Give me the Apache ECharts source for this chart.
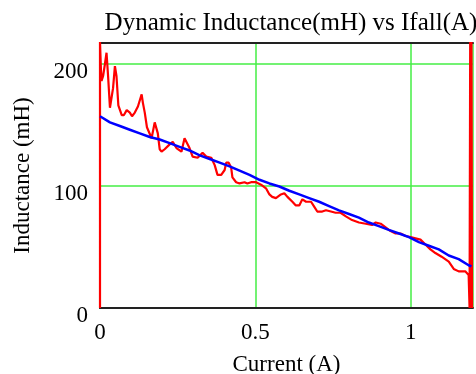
<!DOCTYPE html>
<html>
<head>
<meta charset="utf-8">
<script src="https://cdn.jsdelivr.net/npm/echarts@6/dist/echarts.min.js"></script>
<style>
  html, body { margin: 0; padding: 0; background: #fff; }
  #chart { width: 476px; height: 374px; }
</style>
</head>
<body>
<div id="chart"></div>
<script>
// Measured dynamic inductance during current fall (red) and its fitted trend (blue)
const measuredCurrent = [
  0.000, 0.000, 0.003, 0.005, 0.010, 0.016, 0.021, 0.026, 0.032, 0.042,
  0.048, 0.053, 0.059, 0.070, 0.077, 0.086, 0.096, 0.103, 0.112, 0.122,
  0.134, 0.138, 0.144, 0.151, 0.166, 0.176, 0.182, 0.186, 0.192, 0.198,
  0.208, 0.224, 0.234, 0.246, 0.262, 0.272, 0.278, 0.288, 0.298, 0.314,
  0.330, 0.342, 0.346, 0.358, 0.369, 0.378, 0.390, 0.401, 0.406, 0.414,
  0.422, 0.426, 0.438, 0.449, 0.465, 0.474, 0.486, 0.502, 0.518, 0.534,
  0.545, 0.554, 0.566, 0.582, 0.593, 0.603, 0.619, 0.630, 0.641, 0.651,
  0.663, 0.679, 0.689, 0.699, 0.715, 0.727, 0.743, 0.758, 0.774, 0.791,
  0.811, 0.833, 0.855, 0.875, 0.887, 0.903, 0.919, 0.935, 0.951, 0.967,
  0.983, 0.999, 1.015, 1.031, 1.047, 1.063, 1.079, 1.099, 1.122, 1.138,
  1.154, 1.175, 1.186, 1.188, 1.189, 1.191, 1.193, 1.195, 1.197
];
const measuredInductance = [
  0, 218, 195, 186, 190, 200, 209, 190, 164, 180,
  198, 190, 166, 158, 158, 162, 160, 157, 160, 165,
  175, 168, 160, 148, 139, 152, 152, 143, 130, 128,
  130, 134, 136, 131, 128, 139, 140, 131, 124, 123,
  127, 124, 123, 123, 117, 109, 109, 113, 119, 119,
  115, 107, 103, 102, 103, 102, 103, 103, 101, 98,
  93, 91, 90, 93, 94, 91, 87, 84, 84, 89,
  87, 87, 83, 79, 79, 80, 79, 78, 78, 75,
  72, 70, 69, 68, 70, 69, 66, 63, 61, 61,
  59, 58, 57, 56, 52, 48, 45, 42, 38, 32,
  30, 30, 27, 26, 0, 220, 0, 220, 0
];

const fitCurrent = [
  0.000, 0.032, 0.064, 0.096, 0.128, 0.160, 0.192, 0.224, 0.256, 0.288,
  0.321, 0.353, 0.385, 0.417, 0.449, 0.481, 0.513, 0.545, 0.577, 0.609,
  0.641, 0.673, 0.705, 0.737, 0.769, 0.801, 0.833, 0.865, 0.897, 0.929,
  0.962, 0.994, 1.026, 1.058, 1.090, 1.122, 1.154, 1.186, 1.195
];
const fitInductance = [
  157, 152, 149, 146, 143, 140, 138, 135, 132, 129,
  125, 122, 119, 116, 112.5, 109, 105, 102, 99.5, 96,
  93, 90, 87, 83.5, 80, 77, 74, 70, 67, 64,
  61, 58, 54, 51, 48, 43, 40, 35, 34
];

const xTicks = [0, 0.5, 1];
const yTicks = [0, 100, 200];

const pair = (xs, ys) => xs.map((x, i) => [x, ys[i]]);
const serif = 'Liberation Serif';

const chart = echarts.init(document.getElementById('chart'), null, { renderer: 'canvas' });
chart.setOption({
  animation: false,
  backgroundColor: '#ffffff',
  title: {
    text: 'Dynamic Inductance(mH) vs Ifall(A)',
    left: 286, top: 6, textAlign: 'center',
    textStyle: { fontFamily: serif, fontSize: 25, fontWeight: 'normal', color: '#000' }
  },
  grid: { left: 100, right: 3, top: 43, bottom: 66, outerBoundsMode: 'none', containLabel: false },
  xAxis: [{
    type: 'value', min: 0, max: 1.2, interval: 0.5,
    name: 'Current (A)', nameLocation: 'middle', nameGap: 45,
    nameTextStyle: { fontFamily: serif, fontSize: 23, color: '#000' },
    axisLine: { show: true, lineStyle: { color: '#222', width: 2 } },
    axisTick: { show: false },
    axisLabel: {
      fontFamily: serif, fontSize: 23, color: '#000', margin: 13,
      showMaxLabel: false,
      formatter: v => xTicks.includes(v) ? String(v) : ''
    },
    splitLine: { show: true, lineStyle: { color: '#44ee44', width: 1.5 } }
  }, {
    type: 'value', position: 'top', min: 0, max: 1.2,
    axisLine: { show: true, onZero: false, lineStyle: { color: '#222', width: 2 } },
    axisTick: { show: false }, axisLabel: { show: false }, splitLine: { show: false }
  }],
  yAxis: {
    type: 'value', min: 0, max: 217, interval: 100,
    name: 'Inductance (mH)', nameLocation: 'middle', nameGap: 66, nameRotate: 90,
    nameTextStyle: { fontFamily: serif, fontSize: 23, color: '#000' },
    axisLine: { show: true, lineStyle: { color: '#222', width: 2 } },
    axisTick: { show: false },
    axisLabel: {
      fontFamily: serif, fontSize: 23, color: '#000', margin: 12,
      showMaxLabel: false, verticalAlign: 'top', lineHeight: 16,
      formatter: v => yTicks.includes(v) ? String(v) : ''
    },
    splitLine: { show: true, lineStyle: { color: '#44ee44', width: 1.5 } }
  },
  series: [{
    type: 'line', data: pair(measuredCurrent, measuredInductance),
    showSymbol: false, clip: true,
    lineStyle: { color: '#ff0000', width: 2.2 }
  }, {
    type: 'line', data: pair(fitCurrent, fitInductance),
    showSymbol: false, clip: true,
    lineStyle: { color: '#0000ff', width: 2.5 }
  }]
});
</script>
</body>
</html>
